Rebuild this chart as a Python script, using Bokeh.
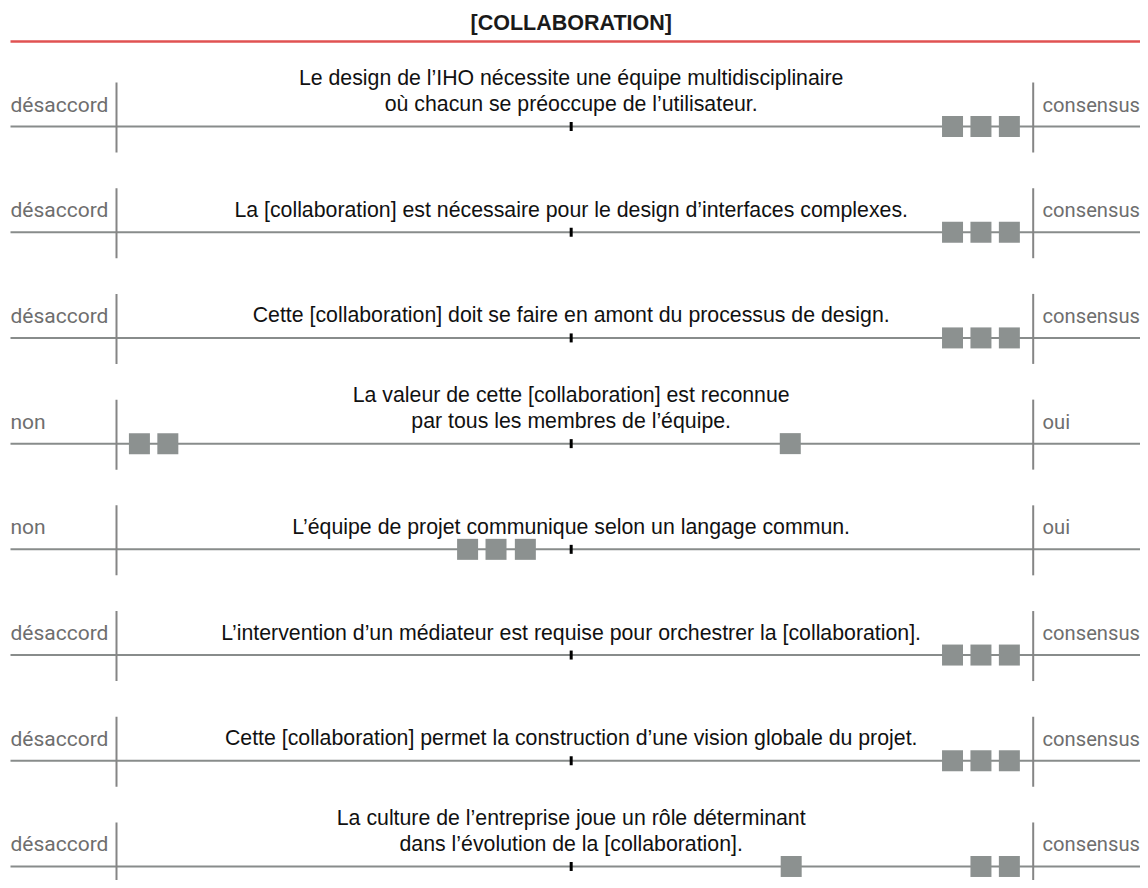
from bokeh.plotting import figure
from bokeh.models import Range1d
from bokeh.core.properties import value
from bokeh.embed import file_html
from bokeh.resources import INLINE

# ---------------- data ----------------
title = "[COLLABORATION]"
statements = [
    ["Le design de l\u2019IHO nécessite une équipe multidisciplinaire", "où chacun se préoccupe de l\u2019utilisateur."],
    ["La [collaboration] est nécessaire pour le design d\u2019interfaces complexes."],
    ["Cette [collaboration] doit se faire en amont du processus de design."],
    ["La valeur de cette [collaboration] est reconnue", "par tous les membres de l\u2019équipe."],
    ["L\u2019équipe de projet communique selon un langage commun."],
    ["L\u2019intervention d\u2019un médiateur est requise pour orchestrer la [collaboration]."],
    ["Cette [collaboration] permet la construction d\u2019une vision globale du projet."],
    ["La culture de l\u2019entreprise joue un rôle déterminant", "dans l\u2019évolution de la [collaboration]."],
]
left_labels = ["désaccord", "désaccord", "désaccord", "non", "non", "désaccord", "désaccord", "désaccord"]
right_labels = ["consensus", "consensus", "consensus", "oui", "oui", "consensus", "consensus", "consensus"]
# response positions on a 0 (left) .. 100 (right) scale
responses = [
    [91.2, 94.3, 97.4],
    [91.2, 94.3, 97.4],
    [91.2, 94.3, 97.4],
    [2.5, 5.6, 73.5],
    [38.3, 41.4, 44.6],
    [91.2, 94.3, 97.4],
    [91.2, 94.3, 97.4],
    [73.6, 94.3, 97.4],
]
NEUTRAL = 49.6

# ---------------- layout ----------------
W, H = 1140, 880
L_PX, R_PX = 116.0, 1032.7
PPU = (R_PX - L_PX) / 100.0


def px2s(px):
    return (px - L_PX) / PPU


ROW0 = 126.0
STEP = 105.71

p = figure(width=W, height=H, output_backend="svg", toolbar_location=None,
           x_range=Range1d(px2s(0), px2s(W)), y_range=Range1d(H, 0),
           min_border=0, outline_line_color=None)
p.axis.visible = False
p.grid.visible = False
p.background_fill_color = "white"
p.border_fill_color = "white"

LINE_COL = "#888c8b"
SQ_COL = "#8c9190"
LABEL_COL = "#6e6e6e"

# title + red rule
p.text(x=[NEUTRAL], y=[22], text=[title], text_align="center", text_baseline="middle",
       text_font=value("Liberation Sans"), text_font_style="bold", text_font_size="21.5px",
       text_color="#1a1a1a")
p.segment(x0=[px2s(10)], x1=[px2s(W)], y0=[41], y1=[41], line_color="#e05252", line_width=2.5)

ys = [ROW0 + i * STEP for i in range(len(statements))]

# horizontal lines
p.segment(x0=[px2s(10)] * len(ys), x1=[px2s(W)] * len(ys), y0=ys, y1=ys,
          line_color=LINE_COL, line_width=2)
# vertical bounds
p.segment(x0=[0] * len(ys) + [100] * len(ys), x1=[0] * len(ys) + [100] * len(ys),
          y0=[y - 44 for y in ys] * 2, y1=[y + 26 for y in ys] * 2,
          line_color="#858585", line_width=2)
# centre tick
p.rect(x=[NEUTRAL] * len(ys), y=ys, width=3, height=9, width_units="screen",
       height_units="screen", fill_color="black", line_color=None)

# squares
sx, sy = [], []
for y, r in zip(ys, responses):
    for v in r:
        sx.append(v)
        sy.append(y)
p.scatter(x=sx, y=sy, marker="square", size=21, fill_color=SQ_COL, line_color=None)

# statements
tx, ty, tt = [], [], []
for y, lines in zip(ys, statements):
    n = len(lines)
    for k, line in enumerate(lines):
        tx.append(NEUTRAL)
        ty.append(y - 22.5 - (n - 1 - k) * 26)
        tt.append(line)
p.text(x=tx, y=ty, text=tt, text_align="center", text_baseline="middle",
       text_font=value("Liberation Sans"), text_font_size="21.3px", text_color="#111111")

# side labels
p.text(x=[px2s(10)] * len(ys), y=[y - 22 for y in ys], text=left_labels, text_align="left",
       text_baseline="middle", text_font=value("Roboto"), text_font_size="21px",
       text_color=LABEL_COL)
p.text(x=[px2s(1042)] * len(ys), y=[y - 22 for y in ys], text=right_labels, text_align="left",
       text_baseline="middle", text_font=value("Roboto"), text_font_size="20.2px",
       text_color=LABEL_COL)

open("out.html", "w").write(file_html(p, INLINE))
